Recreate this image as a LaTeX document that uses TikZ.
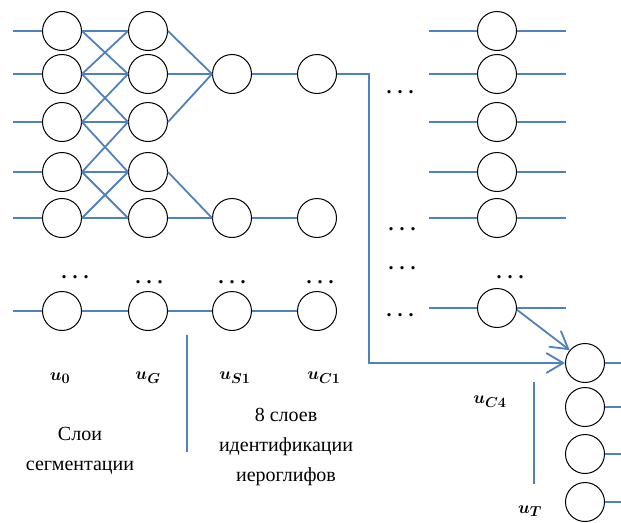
\documentclass[tikz,border=0pt]{standalone}
\usepackage{fontspec}
\setmainfont{Liberation Serif}
\usetikzlibrary{arrows.meta,positioning,calc}
\definecolor{wireblue}{RGB}{79,129,189}
\newcommand{\spdots}{\textbf{.\hspace{6pt}.\hspace{6pt}.}}
\tikzset{%
   neuron/.style={
      circle,
      draw=black,
      line width=1pt,
      minimum size=39pt,
      inner sep=0pt
   },
   wire/.style={
      draw=wireblue,
      line width=1.8pt
   },
   feed/.style={
      wire,
      -{Straight Barb[length=17pt,width=20pt]}
   },
   etc/.style={
      font=\fontsize{20}{20}\selectfont,
      inner sep=0pt
   },
   lbl/.style={
      font=\fontsize{19}{19}\selectfont\boldmath,
      inner sep=0pt
   },
   caption/.style={
      align=center,
      font=\fontsize{20}{30}\selectfont
   },
}

\begin{document}
\begin{tikzpicture}[x=1pt, y=-1pt]
   \useasboundingbox (0,0) rectangle (621,522);
   % free ends of the wires
   \coordinate (inl) at (13,0);
   \coordinate (bend) at (369,0);
   \coordinate (qin) at (429,0);
   \coordinate (qout) at (566,0);
   \coordinate (fout) at (621,0);
   % neurons
   \foreach \y [count=\i] in {31,74,122,172,218} {
      \node[neuron] (o\i) at (62,\y) {};
      \node[neuron] (g\i) at (148,\y) {};
      \node[neuron] (q\i) at (497,\y) {};
   }
   \node[neuron] (o6) at (62,311) {};
   \node[neuron] (g6) at (148,311) {};
   \node[neuron] (q6) at (497,308) {};
   \foreach \y [count=\i] in {74,218,311} {
      \node[neuron] (s\i) at (232,\y) {};
      \node[neuron] (c\i) at (317,\y) {};
   }
   \foreach \y [count=\i] in {363,407,454,502}
      \node[neuron] (f\i) at (585,\y) {};
   % dots
   \node[etc] (d1) at (75,277) {\spdots};
   \node[etc] (d2) at (149,282) {\spdots};
   \node[etc] (d3) at (232,282) {\spdots};
   \node[etc] (d4) at (320,282) {\spdots};
   \node[etc] (d5) at (400,92) {\spdots};
   \node[etc] (d6) at (402,229) {\spdots};
   \node[etc] (d7) at (402,268) {\spdots};
   \node[etc] (d8) at (400,315) {\spdots};
   \node[etc] (d9) at (510,277) {\spdots};
   % wires
   \foreach \i in {1,...,6}
      \draw[wire] (o\i.west) -- (o\i.west -| inl);
   \foreach \i/\j in {1/1,1/2,2/1,2/2,2/3,3/2,3/3,3/4,4/3,4/4,4/5,5/4,5/5}
      \draw[wire] (o\i.east) -- (g\j.west);
   \foreach \i/\j in {1/1,2/1,3/1,4/2,5/2}
      \draw[wire] (g\i.east) -- (s\j.west);
   \draw[wire] (o6) -- (g6);
   \draw[wire] (g6) -- (s3);
   \foreach \i in {1,2,3}
      \draw[wire] (s\i) -- (c\i);
   \draw[feed] (c1.east) -- (c1.east -| bend) |- (f1.west);
   \foreach \i in {1,...,6} {
      \draw[wire] (q\i.west) -- (q\i.west -| qin);
      \draw[wire] (q\i.east) -- (q\i.east -| qout);
   }
   \draw[feed] (q6.-5) -- (f1.140);
   \foreach \i in {1,...,4}
      \draw[wire] (f\i.east) -- (f\i.east -| fout);
   % separators
   \draw[wire] (187,335) -- (187,452);
   \draw[wire] (534,382) -- (534,484);
   % labels
   \node[lbl] (lo) at (60,378) {$u_0$};
   \node[lbl] (lg) at (148,378) {$u_G$};
   \node[lbl] (ls) at (235,378) {$u_{S1}$};
   \node[lbl] (lc) at (324,378) {$u_{C1}$};
   \node[lbl] (lq) at (490,402) {$u_{C4}$};
   \node[lbl, anchor=south] (lt) at (530,517) {$u_T$};
   \node[caption] (segm) at (80,451) {Слои\\сегментации};
   \node[caption] (ident) at (286,447) {8 слоев\\идентификации\\иероглифов};
\end{tikzpicture}
\end{document}
